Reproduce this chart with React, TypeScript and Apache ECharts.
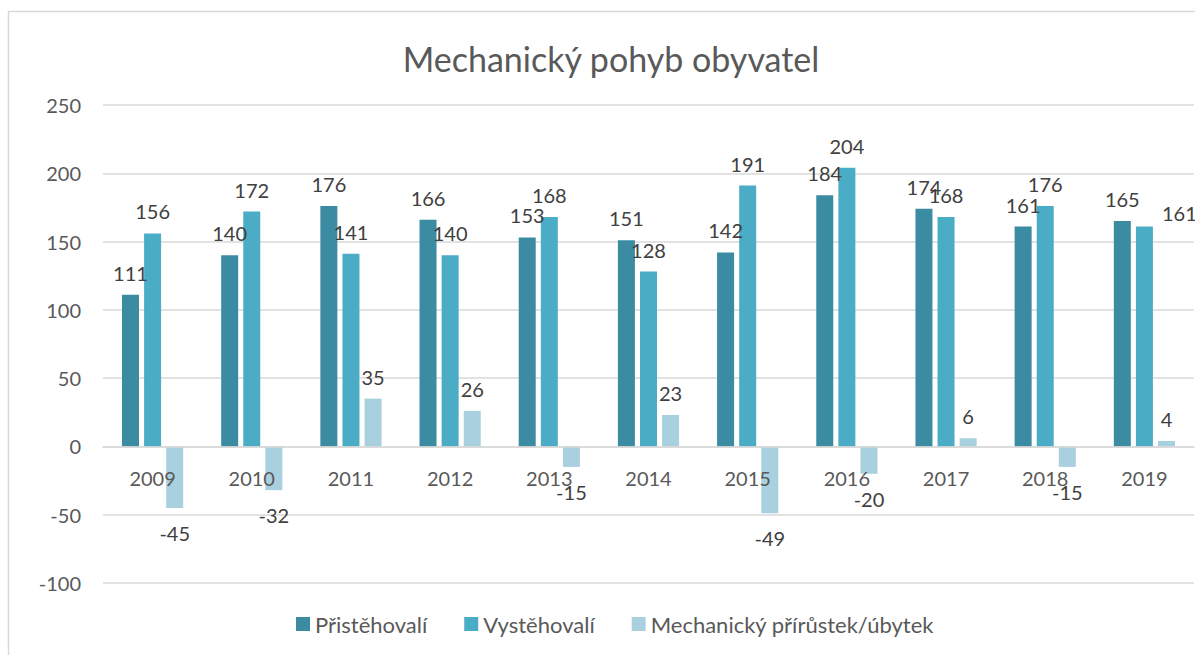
import React, { useEffect, useRef } from "react";
import * as echarts from "echarts";

const categories = ["2009", "2010", "2011", "2012", "2013", "2014", "2015", "2016", "2017", "2018", "2019"];
const prist = [111, 140, 176, 166, 153, 151, 142, 184, 174, 161, 165];
const vyst = [156, 172, 141, 140, 168, 128, 191, 204, 168, 176, 161];
const prirustek = [-45, -32, 35, 26, -15, 23, -49, -20, 6, -15, 4];
const seriesNames = ["Přistěhovalí", "Vystěhovalí", "Mechanický přírůstek/úbytek"];
const colors = ["#3B8BA2", "#4BACC6", "#A9D0DE"];

const FONT = "Lato, 'Open Sans', sans-serif";

export default function App() {
  const ref = useRef<HTMLDivElement>(null);
  useEffect(() => {
    if (!ref.current) return;
    const chart = echarts.init(ref.current, undefined, { renderer: "svg" });
    const mk = (arr: number[], sIdx: number) =>
      arr.map((v, i) => {
        const item: any = { value: v };
        if (v < 0) item.label = { distance: 15 };
        if (sIdx === 1 && i === arr.length - 1) item.label = { offset: [35, 8] };
        return item;
      });
    const labelBase = {
      show: true,
      position: "outside",
      distance: 12,
      color: "#404040",
      fontSize: 20,
      fontFamily: FONT,
    };
    chart.setOption({
      animation: false,
      color: colors,
      textStyle: { fontFamily: FONT },
      title: {
        text: "Mechanický pohyb obyvatel",
        left: 606,
        top: 36,
        textAlign: "center",
        textStyle: { fontSize: 34, fontWeight: "normal", color: "#595959", fontFamily: FONT },
      },
      graphic: [
        {
          type: "rect",
          shape: { x: 8.5, y: 11.5, width: 1400, height: 800 },
          style: { fill: "none", stroke: "#D9D9D9", lineWidth: 1.5 },
          silent: true,
        },
      ],
      legend: {
        bottom: 15,
        left: 291,
        itemWidth: 14,
        itemHeight: 14,
        itemGap: 37,
        icon: "rect",
        textStyle: { fontSize: 22, color: "#595959", fontFamily: FONT },
        data: seriesNames,
      },
      grid: { left: 103, right: 1, top: 105, bottom: 72 },
      xAxis: {
        type: "category",
        data: categories,
        offset: -136.6,
        z: 5,
        axisLine: { onZero: false, lineStyle: { color: "#D9D9D9", width: 1.5 } },
        axisTick: { show: false },
        axisLabel: { color: "#595959", fontSize: 20, margin: 22, fontFamily: FONT },
      },
      yAxis: {
        type: "value",
        min: -100,
        max: 250,
        interval: 50,
        axisLine: { show: false },
        axisTick: { show: false },
        splitLine: { lineStyle: { color: "#D9D9D9", width: 1.5 } },
        axisLabel: { color: "#595959", fontSize: 20, margin: 22, fontFamily: FONT },
      },
      series: [
        { name: seriesNames[0], type: "bar", barWidth: 17, barGap: "30%", data: mk(prist, 0), label: labelBase },
        { name: seriesNames[1], type: "bar", barWidth: 17, barGap: "30%", data: mk(vyst, 1), label: labelBase },
        { name: seriesNames[2], type: "bar", barWidth: 17, barGap: "30%", data: mk(prirustek, 2), label: labelBase },
      ],
    });
    return () => chart.dispose();
  }, []);
  return (
    <div
      ref={ref}
      style={{ position: "absolute", left: 0, top: 0, width: 1195, height: 655, background: "#fff" }}
    />
  );
}
